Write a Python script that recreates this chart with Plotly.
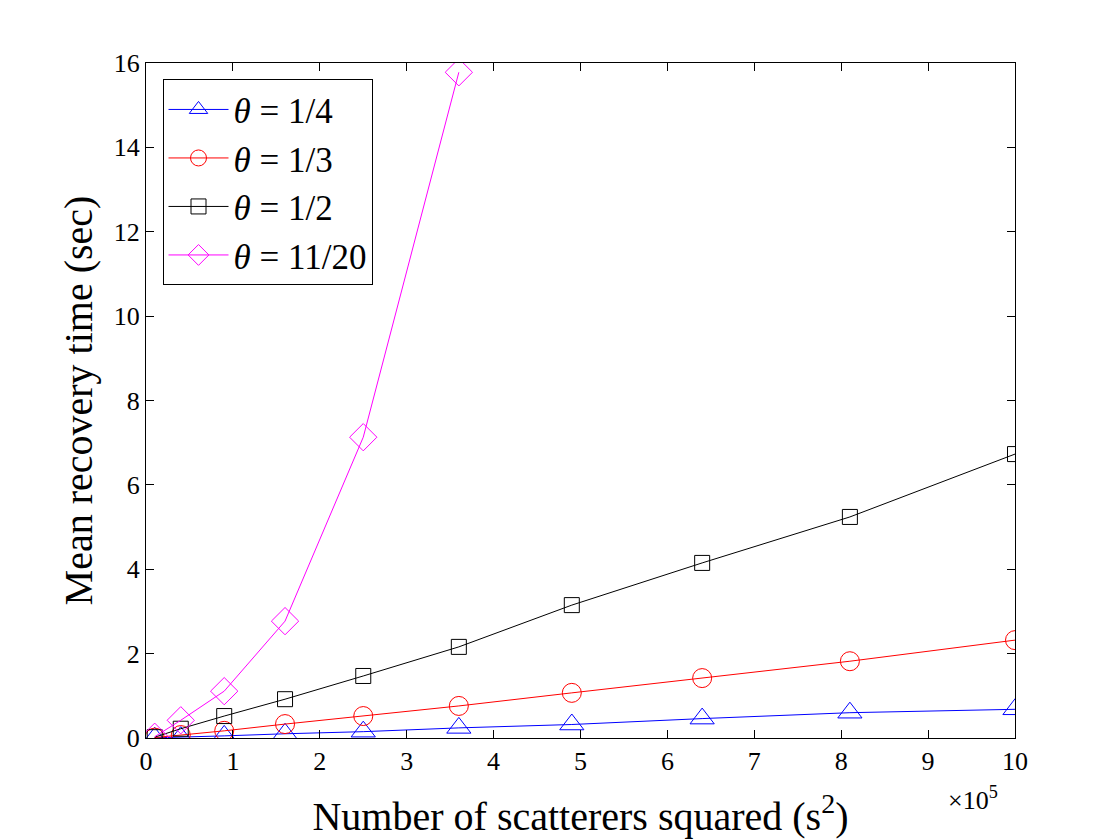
import plotly.graph_objects as go

# x values in units of 1e5 (s^2 for s = 100..1000)
x_vals = [0.1, 0.4, 0.9, 1.6, 2.5, 3.6, 4.9, 6.4, 8.1, 10]
t_quarter = [0.005, 0.02, 0.05, 0.1, 0.15, 0.24, 0.32, 0.46, 0.6, 0.68]
t_third = [0.01, 0.07, 0.17, 0.33, 0.52, 0.76, 1.07, 1.42, 1.82, 2.32]
t_half = [0.02, 0.22, 0.52, 0.92, 1.47, 2.16, 3.15, 4.15, 5.24, 6.73]
t_1120 = [0.03, 0.42, 1.11, 2.77, 7.13, 15.78]

series = [
    ("<i>θ</i> = 1/4", t_quarter, "#0000ff", "triangle-up-open", 21),
    ("<i>θ</i> = 1/3", t_third, "#ff0000", "circle-open", 19),
    ("<i>θ</i> = 1/2", t_half, "#000000", "square-open", 15),
    ("<i>θ</i> = 11/20", t_1120, "#ff00ff", "diamond-open", 21),
]

font = "Liberation Serif, Times New Roman, serif"

fig = go.Figure()
for name, ys, col, sym, sz in series:
    fig.add_trace(go.Scatter(
        x=x_vals[:len(ys)], y=ys, name=name, mode="lines+markers",
        line=dict(color=col, width=1),
        marker=dict(symbol=sym, size=sz, color=col, line=dict(width=1, color=col)),
    ))

axis_common = dict(
    showline=True, linecolor="black", linewidth=1, mirror="allticks",
    ticks="inside", ticklen=8, tickcolor="black", showgrid=False, zeroline=False,
    tickfont=dict(family=font, size=26, color="black"), automargin=False,
)

fig.update_layout(
    width=1104, height=832,
    margin=dict(l=138, r=97, t=55, b=102),
    paper_bgcolor="white", plot_bgcolor="white",
    font=dict(family=font, color="black"),
    xaxis=dict(range=[0, 10], tickvals=list(range(0, 11)), **axis_common,
               title=dict(text="Number of scatterers squared (s<sup>2</sup>)",
                          font=dict(family=font, size=40), standoff=26)),
    yaxis=dict(range=[0, 16], tickvals=list(range(0, 17, 2)), **axis_common,
               title=dict(text="Mean recovery time (sec)",
                          font=dict(family=font, size=40), standoff=8)),
    legend=dict(x=0.019, y=0.976, xanchor="left", yanchor="top",
                bgcolor="white", bordercolor="black", borderwidth=1,
                font=dict(family=font, size=35), itemwidth=60,
                tracegroupgap=0),
    showlegend=True,
)

fig.add_annotation(text="×10<sup>5</sup>", xref="paper", yref="paper",
                   x=0.983, y=-0.062, xanchor="right", yanchor="top",
                   showarrow=False, font=dict(family=font, size=26))

fig.write_html("out.html")
